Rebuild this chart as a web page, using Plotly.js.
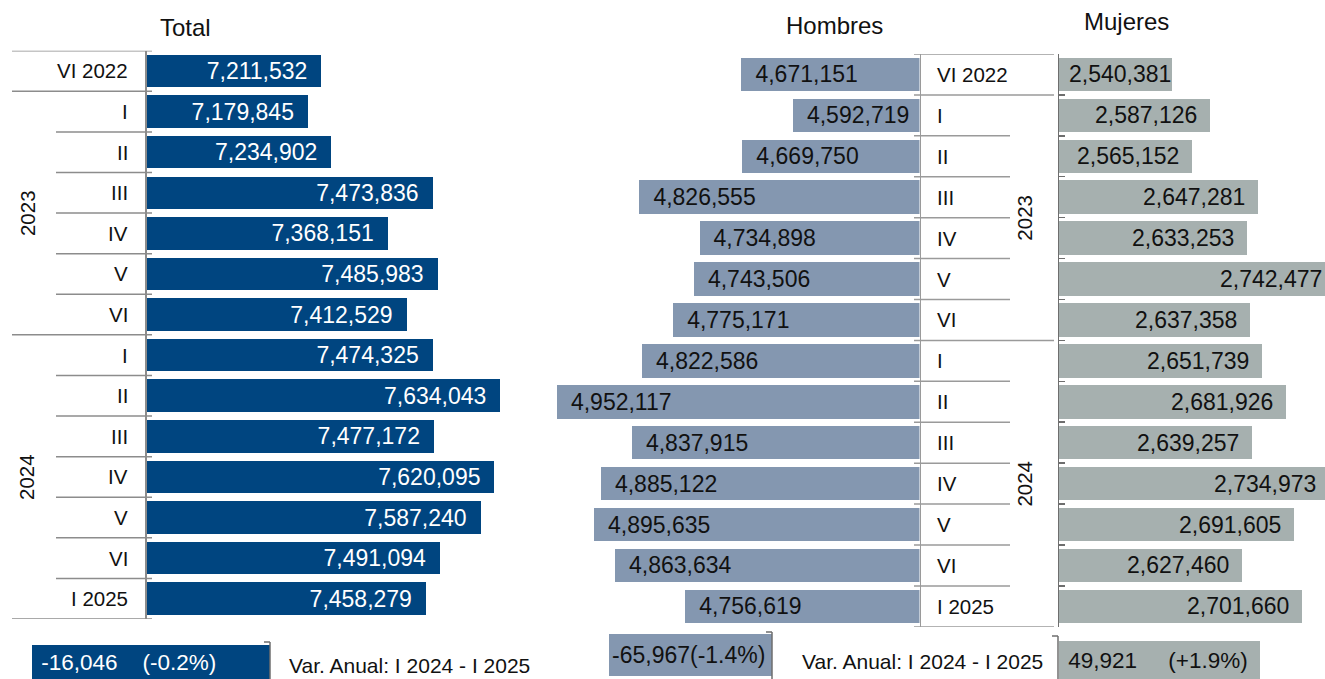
<!DOCTYPE html>
<html>
<head>
<meta charset="utf-8">
<script src="https://cdn.plot.ly/plotly-3.0.1.min.js"></script>
<style>
  html, body { margin: 0; padding: 0; overflow: hidden; background: #ffffff; }
  #chart { width: 1345px; height: 679px; }
</style>
</head>
<body>
<div id="chart"></div>
<script>
// ---------------- DATA ----------------
const periodLabels = ['VI 2022', 'I', 'II', 'III', 'IV', 'V', 'VI', 'I', 'II', 'III', 'IV', 'V', 'VI', 'I 2025'];
const yearLabels = ['2023', '2024'];
const totalValues = [7211532, 7179845, 7234902, 7473836, 7368151, 7485983, 7412529, 7474325, 7634043, 7477172, 7620095, 7587240, 7491094, 7458279];
const hombresValues = [4671151, 4592719, 4669750, 4826555, 4734898, 4743506, 4775171, 4822586, 4952117, 4837915, 4885122, 4895635, 4863634, 4756619];
const mujeresValues = [2540381, 2587126, 2565152, 2647281, 2633253, 2742477, 2637358, 2651739, 2681926, 2639257, 2734973, 2691605, 2627460, 2701660];
const panelTitles = ['Total', 'Hombres', 'Mujeres'];
const varLabel = 'Var. Anual: I 2024 - I 2025';
const varValues = [-16046, -65967, 49921];
const varPct = [-0.2, -1.4, 1.9];

// ---------------- LAYOUT HELPERS ----------------
const W = 1345, H = 679;
const px = v => v / W;
const py = v => 1 - v / H;
const FONT = '"Liberation Sans", Arial, sans-serif';
const C_TOTAL = '#004580';
const C_HOM = '#8497b0';
const C_MUJ = '#a6b0af';
const C_LINE = '#8c8c8c';
const C_TXT = '#111111';

const rows = periodLabels.map((_, i) => i);
const NB = '\u00a0', TH = '\u2009';

function fmt(v) { return Math.abs(v).toLocaleString('en-US'); }
function varText(i, gap) {
  const v = varValues[i], p = varPct[i];
  const sv = (v < 0 ? '-' : '') + fmt(v);
  const sp = '(' + (p > 0 ? '+' : (p < 0 ? '-' : '')) + Math.abs(p).toFixed(1) + '%)';
  return sv + NB.repeat(gap) + sp;
}

const traces = [
  {
    type: 'bar', orientation: 'h', x: totalValues, y: rows, xaxis: 'x', yaxis: 'y',
    marker: { color: C_TOTAL }, width: 0.8,
    texttemplate: '%{x:,}' + TH + NB, textposition: 'inside', insidetextanchor: 'end',
    textangle: 0, constraintext: 'none',
    insidetextfont: { family: FONT, size: 23, color: '#ffffff' }, hoverinfo: 'skip'
  },
  {
    type: 'bar', orientation: 'h', x: hombresValues, y: rows, xaxis: 'x2', yaxis: 'y2',
    marker: { color: C_HOM }, width: 0.82,
    texttemplate: NB + TH + '%{x:,}', textposition: 'inside', insidetextanchor: 'end',
    textangle: 0, constraintext: 'none',
    insidetextfont: { family: FONT, size: 23, color: C_TXT }, hoverinfo: 'skip'
  },
  {
    type: 'bar', orientation: 'h', x: mujeresValues, y: rows, xaxis: 'x3', yaxis: 'y3',
    marker: { color: C_MUJ }, width: 0.82, textposition: 'none', hoverinfo: 'skip'
  },
  {
    type: 'bar', orientation: 'h', x: [varValues[0]], y: [0], xaxis: 'x4', yaxis: 'y4',
    marker: { color: C_TOTAL }, width: 1,
    text: [NB + varText(0, 4)], textposition: 'inside', insidetextanchor: 'end',
    textangle: 0, constraintext: 'none',
    insidetextfont: { family: FONT, size: 22.5, color: '#ffffff' }, hoverinfo: 'skip'
  },
  {
    type: 'bar', orientation: 'h', x: [varValues[1]], y: [0], xaxis: 'x5', yaxis: 'y5',
    marker: { color: C_HOM }, width: 1,
    text: [varText(1, 0)], textposition: 'inside', insidetextanchor: 'end',
    textangle: 0, constraintext: 'none',
    insidetextfont: { family: FONT, size: 23, color: C_TXT }, hoverinfo: 'skip'
  },
  {
    type: 'bar', orientation: 'h', x: [varValues[2]], y: [0], xaxis: 'x6', yaxis: 'y6',
    marker: { color: C_MUJ }, width: 1,
    text: [NB + varText(2, 5)], textposition: 'inside', insidetextanchor: 'start',
    textangle: 0, constraintext: 'none',
    insidetextfont: { family: FONT, size: 22.5, color: C_TXT }, hoverinfo: 'skip'
  }
];

const hidden = { visible: false, showgrid: false, zeroline: false, fixedrange: true };
const rowRange = [periodLabels.length - 0.5, -0.5];
const boundaries = [];
for (let b = -0.5; b <= periodLabels.length - 0.5 + 1e-9; b += 1) boundaries.push(b);

// scales (px per unit)
const sTot = 0.0004237, sHom = 0.0006567, sMuj = 0.000806;
const mujStart = 2400000;
const layout = {
  width: W, height: H,
  margin: { l: 0, r: 0, t: 0, b: 0 },
  paper_bgcolor: '#ffffff', plot_bgcolor: 'rgba(0,0,0,0)',
  showlegend: false, bargap: 0,
  font: { family: FONT, size: 20, color: C_TXT },
  xaxis: Object.assign({}, hidden, { domain: [px(147), px(540)], range: [6800000, 6800000 + (540 - 147) / sTot], anchor: 'y' }),
  yaxis: { domain: [py(619), py(50.7)], range: rowRange, anchor: 'x', side: 'left',
    showline: true, linecolor: C_LINE, linewidth: 2, showticklabels: false, ticks: '',
    showgrid: false, zeroline: false, fixedrange: true },
  xaxis2: Object.assign({}, hidden, { domain: [px(540), px(919.5)], range: [4400000 + (919.5 - 540) / sHom, 4400000], anchor: 'y2' }),
  yaxis2: { domain: [py(626.8), py(54)], range: rowRange, anchor: 'x2', side: 'right',
    showline: true, linecolor: '#9a9a9a', linewidth: 1.5, showticklabels: false, ticks: '',
    showgrid: false, zeroline: false, fixedrange: true },
  xaxis3: Object.assign({}, hidden, { domain: [px(1059), 1], range: [mujStart, mujStart + (W - 1059) / sMuj], anchor: 'y3' }),
  yaxis3: { domain: [py(626.8), py(54)], range: rowRange, anchor: 'x3', side: 'left',
    showline: true, linecolor: '#6e6e6e', linewidth: 1.5, showticklabels: false,
    ticks: 'inside', ticklen: 6, tickwidth: 1.5, tickcolor: '#6e6e6e', tickvals: boundaries,
    showgrid: false, zeroline: false, fixedrange: true },
  xaxis4: Object.assign({}, hidden, { domain: [0, px(270)], range: [-16046 * 270 / 238, 0], anchor: 'y4' }),
  yaxis4: Object.assign({}, hidden, { domain: [0, 34 / H], range: [-0.5, 0.5], anchor: 'x4' }),
  xaxis5: Object.assign({}, hidden, { domain: [px(540), px(772)], range: [-65967 * (772 - 540) / 163, 0], anchor: 'y5' }),
  yaxis5: Object.assign({}, hidden, { domain: [3 / H, 45 / H], range: [-0.5, 0.5], anchor: 'x5' }),
  xaxis6: Object.assign({}, hidden, { domain: [px(1059), 1], range: [0, 49921 * (W - 1059) / 201], anchor: 'y6' }),
  yaxis6: Object.assign({}, hidden, { domain: [0, 38 / H], range: [-0.5, 0.5], anchor: 'x6' }),
  shapes: [],
  annotations: []
};

// separators: long at group edges, short inside years
const longB = [-0.5, 0.5, 6.5, periodLabels.length - 0.5];
boundaries.forEach(b => {
  const isLong = longB.some(l => Math.abs(l - b) < 1e-9);
  layout.shapes.push({ type: 'line', xref: 'paper', yref: 'y', x0: px(isLong ? 12 : 56), x1: px(152), y0: b, y1: b,
    line: { color: C_LINE, width: 1.5 } });
  layout.shapes.push({ type: 'line', xref: 'paper', yref: 'y2', x0: px(914), x1: px(isLong ? 1054 : 1010), y0: b, y1: b,
    line: { color: '#9a9a9a', width: 1.5 } });
});

// brackets for annual variation bars
[[270, 642], [772, 632], [1058, 636]].forEach(([bx, by]) => {
  layout.shapes.push({ type: 'line', xref: 'paper', yref: 'paper', x0: px(bx), x1: px(bx), y0: py(by), y1: 0,
    line: { color: '#6e6e6e', width: 1.5 } });
  layout.shapes.push({ type: 'line', xref: 'paper', yref: 'paper', x0: px(bx - 6), x1: px(bx), y0: py(by), y1: py(by),
    line: { color: '#6e6e6e', width: 1.5 } });
});

// Mujeres value labels at the bar ends (inside end); if a label does not fit,
// it is kept inside the bar, starting near the axis (as the original does).
const labelW = s => (s.replace(/,/g, '').length * 0.556 + (s.match(/,/g) || []).length * 0.278) * 23;
mujeresValues.forEach((v, i) => {
  const s = fmt(v);
  const barPx = (v - mujStart) * sMuj;
  const fits = barPx - 12 - labelW(s) >= 9;
  layout.annotations.push(fits
    ? { text: s, xref: 'x3', yref: 'y3', x: v, y: i, xanchor: 'right', yanchor: 'middle',
        xshift: -12, borderpad: 0, showarrow: false, font: { family: FONT, size: 23, color: C_TXT } }
    : { text: s, xref: 'x3', yref: 'y3', x: mujStart, y: i, xanchor: 'left', yanchor: 'middle',
        xshift: 9, borderpad: 0, showarrow: false, font: { family: FONT, size: 23, color: C_TXT } });
});

// category labels
periodLabels.forEach((lab, i) => {
  layout.annotations.push({ text: lab, xref: 'paper', yref: 'y', x: px(130), y: i, xanchor: 'right', yanchor: 'middle',
    showarrow: false, font: { family: FONT, size: 20.5, color: C_TXT } });
  layout.annotations.push({ text: lab, xref: 'paper', yref: 'y2', x: px(935), y: i, xanchor: 'left', yanchor: 'middle',
    showarrow: false, font: { family: FONT, size: 20.5, color: C_TXT } });
});
// year labels (2023: rows 1-6, 2024: rows 7-13)
const yearCenters = [3.5, 10];
yearLabels.forEach((yl, k) => {
  layout.annotations.push({ text: yl, xref: 'paper', yref: 'y', x: px(27), y: yearCenters[k], textangle: -90,
    xanchor: 'center', yanchor: 'middle', showarrow: false, font: { family: FONT, size: 20.5, color: C_TXT } });
  layout.annotations.push({ text: yl, xref: 'paper', yref: 'y2', x: px(1025), y: yearCenters[k], textangle: -90,
    xanchor: 'center', yanchor: 'middle', showarrow: false, font: { family: FONT, size: 20.5, color: C_TXT } });
});
// titles
[[185, 28], [834, 26], [1126, 21]].forEach(([tx, ty], k) => {
  layout.annotations.push({ text: panelTitles[k], xref: 'paper', yref: 'paper', x: px(tx), y: py(ty),
    xanchor: 'center', yanchor: 'middle', showarrow: false, font: { family: FONT, size: 24, color: C_TXT } });
});
// variation captions
[[287, 665], [800, 661]].forEach(([tx, ty]) => {
  layout.annotations.push({ text: varLabel, xref: 'paper', yref: 'paper', x: px(tx), y: py(ty),
    xanchor: 'left', yanchor: 'middle', showarrow: false, font: { family: FONT, size: 21, color: C_TXT } });
});

Plotly.newPlot('chart', traces, layout, { staticPlot: true, displayModeBar: false });
</script>
</body>
</html>
